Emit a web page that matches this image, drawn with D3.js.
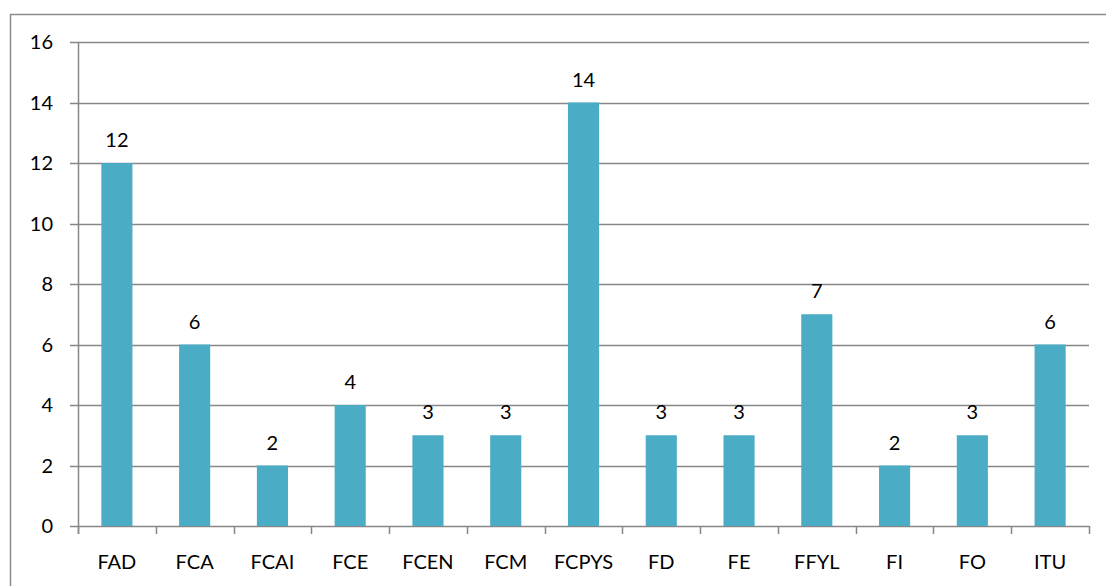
<!DOCTYPE html>
<html>
<head>
<meta charset="utf-8">
<script src="https://cdn.jsdelivr.net/npm/d3@7"></script>
<style>
  body { margin: 0; background: #fff; }
  text { font-family: Lato, "Open Sans", sans-serif; fill: #000; }
</style>
</head>
<body>
<div class="chart"></div>
<script>
// Chart data
var categories = ["FAD", "FCA", "FCAI", "FCE", "FCEN", "FCM", "FCPYS", "FD", "FE", "FFYL", "FI", "FO", "ITU"];
var counts = [12, 6, 2, 4, 3, 3, 14, 3, 3, 7, 2, 3, 6];
var yTicks = [0, 2, 4, 6, 8, 10, 12, 14, 16];

var svgWidth = 1106;
var svgHeight = 586;

var margin = { top: 42, right: 17, bottom: 60, left: 78 };
var width = 1089 - margin.left;
var height = 526 - margin.top;

var svg = d3.select(".chart")
  .append("svg")
  .attr("width", svgWidth)
  .attr("height", svgHeight);

// outer chart border (runs off the right and bottom edges)
svg.append("rect")
  .attr("x", 10.5)
  .attr("y", 14.5)
  .attr("width", 1110)
  .attr("height", 600)
  .attr("fill", "none")
  .attr("stroke", "#8c8c8c")
  .attr("stroke-width", 1.5);

var chartGroup = svg.append("g")
  .attr("transform", `translate(${margin.left}, ${margin.top})`);

var xScale = d3.scaleBand()
  .domain(categories)
  .range([0, width])
  .paddingInner(0.6)
  .paddingOuter(0.3);

var yScale = d3.scaleLinear()
  .domain([0, 16])
  .range([height, 0]);

// horizontal gridlines
chartGroup.append("g")
  .selectAll("line")
  .data(yTicks)
  .enter()
  .append("line")
  .attr("x1", -8)
  .attr("x2", width)
  .attr("y1", d => Math.round(yScale(d)) + 0.5)
  .attr("y2", d => Math.round(yScale(d)) + 0.5)
  .attr("stroke", "#878787")
  .attr("stroke-width", 1.5);

// y axis labels
chartGroup.append("g")
  .selectAll("text")
  .data(yTicks)
  .enter()
  .append("text")
  .attr("x", -25)
  .attr("y", d => yScale(d))
  .attr("dy", "0.36em")
  .attr("text-anchor", "end")
  .attr("font-size", 20)
  .text(d => d);

// y axis line
chartGroup.append("line")
  .attr("x1", 0.5).attr("x2", 0.5)
  .attr("y1", 0).attr("y2", height + 8)
  .attr("stroke", "#878787")
  .attr("stroke-width", 1.5);

// x axis ticks between categories
var bounds = d3.range(categories.length + 1).map(i => i * width / categories.length);
chartGroup.append("g")
  .selectAll("line")
  .data(bounds)
  .enter()
  .append("line")
  .attr("x1", d => Math.round(d) + 0.5)
  .attr("x2", d => Math.round(d) + 0.5)
  .attr("y1", height)
  .attr("y2", height + 8)
  .attr("stroke", "#878787")
  .attr("stroke-width", 1.5);

// bars
chartGroup.append("g")
  .selectAll("rect")
  .data(counts)
  .enter()
  .append("rect")
  .attr("x", (d, i) => xScale(categories[i]))
  .attr("y", d => yScale(d))
  .attr("width", xScale.bandwidth())
  .attr("height", d => height - yScale(d))
  .attr("fill", "#4BACC6");

// value labels
chartGroup.append("g")
  .selectAll("text")
  .data(counts)
  .enter()
  .append("text")
  .attr("x", (d, i) => xScale(categories[i]) + xScale.bandwidth() / 2)
  .attr("y", d => yScale(d) - 16)
  .attr("text-anchor", "middle")
  .attr("font-size", 20)
  .text(d => d);

// category labels
chartGroup.append("g")
  .selectAll("text")
  .data(categories)
  .enter()
  .append("text")
  .attr("x", d => xScale(d) + xScale.bandwidth() / 2)
  .attr("y", height + 43)
  .attr("text-anchor", "middle")
  .attr("font-size", 20)
  .text(d => d);
</script>
</body>
</html>
